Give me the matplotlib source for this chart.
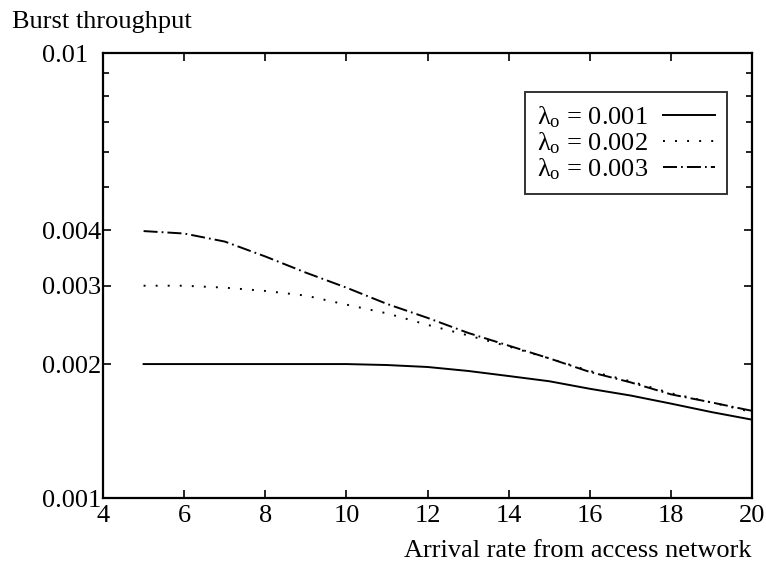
import matplotlib
matplotlib.use("Agg")
import matplotlib.pyplot as plt
from matplotlib.ticker import FixedLocator, FixedFormatter, NullFormatter

plt.rcParams['font.family'] = ['Liberation Serif', 'DejaVu Serif']
plt.rcParams['mathtext.fontset'] = 'custom'
plt.rcParams['mathtext.rm'] = 'Liberation Serif'
plt.rcParams['mathtext.it'] = 'Liberation Serif:italic'

# Arrival rate from the access network
arrival_rate = [5, 6, 7, 8, 9, 10, 11, 12, 13, 14, 15, 16, 17, 18, 19, 20]

# Burst throughput for three offered loads lambda_o
thr_001 = [0.00200, 0.00200, 0.00200, 0.00200, 0.00200, 0.00200, 0.00199, 0.00197,
           0.00193, 0.00188, 0.00183, 0.00176, 0.00170, 0.00163, 0.00156, 0.00150]
thr_002 = [0.00300, 0.00300, 0.00297, 0.00292, 0.00285, 0.00272, 0.00260, 0.00245,
           0.00232, 0.00219, 0.00206, 0.00193, 0.00183, 0.00172, 0.00164, 0.00156]
thr_003 = [0.00398, 0.00393, 0.00377, 0.00349, 0.00321, 0.00297, 0.00273, 0.00254,
           0.00235, 0.00220, 0.00206, 0.00192, 0.00182, 0.00171, 0.00164, 0.00157]

labels = ['λ$_{\\rm o}$ = 0.001', 'λ$_{\\rm o}$ = 0.002', 'λ$_{\\rm o}$ = 0.003']

y_major = [0.001, 0.002, 0.003, 0.004, 0.01]
y_major_labels = ['0.001', '0.002', '0.003', '0.004', '0.01']
y_minor = [0.005, 0.006, 0.007, 0.008, 0.009]
x_ticks = [4, 6, 8, 10, 12, 14, 16, 18, 20]

FS = 19

fig = plt.figure(figsize=(7.66, 5.66), dpi=100)
ax = fig.add_axes([0.1345, 0.1201, 0.8473, 0.7862])

ax.plot(arrival_rate, thr_001, color='black', lw=1.4, linestyle='-', label=labels[0])
ax.plot(arrival_rate, thr_002, color='black', lw=1.4, linestyle=(0, (1.0, 5.2)), label=labels[1])
ax.plot(arrival_rate, thr_003, color='black', lw=1.4, linestyle=(0, (7.2, 2.1, 0.9, 2.1)), label=labels[2])

ax.set_yscale('log')
ax.set_xlim(4, 20)
ax.set_ylim(0.001, 0.01)

ax.yaxis.set_major_locator(FixedLocator(y_major))
ax.yaxis.set_major_formatter(FixedFormatter(y_major_labels))
ax.yaxis.set_minor_locator(FixedLocator(y_minor))
ax.yaxis.set_minor_formatter(NullFormatter())
ax.set_xticks(x_ticks)
ax.set_xticklabels([str(t) for t in x_ticks])

for s in ax.spines.values():
    s.set_linewidth(1.6)

ax.tick_params(which='both', direction='in', top=True, right=True, width=1.2)
ax.tick_params(which='major', length=6, labelsize=FS)
ax.tick_params(which='minor', length=4)
ax.tick_params(axis='y', which='major', pad=44)
ax.tick_params(axis='x', which='major', pad=5)
for lab in ax.get_yticklabels():
    lab.set_horizontalalignment('left')

leg = ax.legend(loc='upper right', bbox_to_anchor=(0.9615, 0.912), fontsize=FS,
                markerfirst=False, handlelength=1.97, handletextpad=0.57,
                labelspacing=0.02, borderpad=0.45, borderaxespad=0.0,
                frameon=True, fancybox=False, edgecolor='black')
leg.get_frame().set_linewidth(1.4)

fig.text(0.0157, 0.961, 'Burst throughput', fontsize=FS, ha='left', va='center')
fig.text(0.9817, 0.0265, 'Arrival rate from access network', fontsize=FS, ha='right', va='center')

fig.savefig('out.png', dpi=100)
